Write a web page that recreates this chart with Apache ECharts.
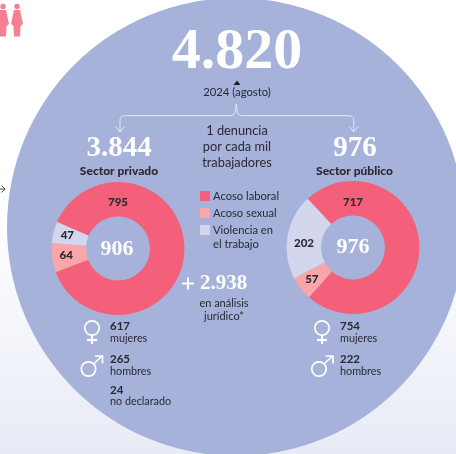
<!DOCTYPE html>
<html>
<head>
<meta charset="utf-8">
<style>
  html, body { margin: 0; padding: 0; background: #fff; }
  #main { width: 456px; height: 454px; }
</style>
<script src="https://cdn.jsdelivr.net/npm/echarts@6/dist/echarts.min.js"></script>
</head>
<body>
<div id="main"></div>
<script>
// datos
const categorias = ['Acoso laboral', 'Acoso sexual', 'Violencia en\nel trabajo'];
const privado = [795, 64, 47];
const publico = [717, 57, 202];
const colores = ['#f4607a', '#f9a6ab', '#d3d6ec'];
const total = '4.820';
const totalPrivado = '3.844';
const totalPublico = '976';
const centroPrivado = '906';
const centroPublico = '976';
const enAnalisis = '2.938';
const generoPrivado = ['617', '265', '24'];
const generoPublico = ['754', '222'];

const SERIF = '"Liberation Serif", serif';
const SANS = 'Lato, "Noto Sans", sans-serif';
const DARK = '#2b2933';
const LLAVE = '#e3e6f4';

function txt(x, y, text, size, opts) {
    opts = opts || {};
    return {
        type: 'text', x: x, y: y, silent: true, z: 20,
        style: {
            text: text,
            fontSize: size,
            fontFamily: opts.font || SANS,
            fontWeight: opts.weight || 'normal',
            fill: opts.color || DARK,
            align: opts.align || 'center',
            verticalAlign: 'middle',
            lineHeight: opts.lh
        }
    };
}
function linea(puntos, color, w) {
    return {
        type: 'polyline', silent: true, z: 15,
        shape: { points: puntos },
        style: { fill: 'none', stroke: color, lineWidth: w }
    };
}
function curva(x1, y1, cx, cy, x2, y2) {
    return {
        type: 'bezierCurve', silent: true, z: 15,
        shape: { x1: x1, y1: y1, cpx1: cx, cpy1: cy, x2: x2, y2: y2 },
        style: { fill: 'none', stroke: LLAVE, lineWidth: 1 }
    };
}
function mujer(x, y) {
    return [
        { type: 'circle', silent: true, z: 15, shape: { cx: x, cy: y, r: 7.2 }, style: { fill: 'none', stroke: '#fff', lineWidth: 1.7 } },
        linea([[x, y + 7], [x, y + 16]], '#fff', 2.2),
        linea([[x - 5, y + 12], [x + 5, y + 12]], '#fff', 2.2)
    ];
}
function hombre(x, y) {
    return [
        { type: 'circle', silent: true, z: 15, shape: { cx: x, cy: y, r: 7.2 }, style: { fill: 'none', stroke: '#fff', lineWidth: 1.7 } },
        linea([[x + 5, y - 5], [x + 13.5, y - 13]], '#fff', 1.7),
        linea([[x + 6.5, y - 13], [x + 14, y - 13], [x + 14, y - 5.5]], '#fff', 1.7)
    ];
}
function persona(x) {
    return [
        { type: 'circle', silent: true, z: 5, shape: { cx: x, cy: 6.5, r: 2.7 }, style: { fill: '#f77f92' } },
        { type: 'polygon', silent: true, z: 5, shape: { points: [[x - 3, 10], [x + 3, 10], [x + 6, 24], [x + 3.5, 26], [x + 3, 36.5], [x - 3, 36.5], [x - 3.5, 26], [x - 6, 24]] }, style: { fill: '#f77f92' } }
    ];
}
function dona(nombre, valores, cx, cy, inicio, ajustes) {
    return {
        name: nombre,
        type: 'pie',
        center: [cx, cy],
        radius: [32, 66.5],
        startAngle: inicio,
        clockwise: true,
        avoidLabelOverlap: false,
        silent: true,
        animation: false,
        z: 10,
        label: {
            show: true, position: 'inside', formatter: '{c}',
            fontFamily: SANS, fontWeight: 900, fontSize: 11.5, color: DARK
        },
        labelLine: { show: false },
        labelLayout: function (p) {
            // la etiqueta mayor va arriba, no a mitad del arco
            if (p.dataIndex === 0) return { x: cx, y: 202, align: 'center', verticalAlign: 'middle' };
            return ajustes[p.dataIndex] || {};
        },
        data: valores.map(function (v, i) {
            return { name: categorias[i], value: v, itemStyle: { color: colores[i] } };
        })
    };
}

const grafico = [].concat(
    [{ type: 'circle', silent: true, z: 1, shape: { cx: 236, cy: 227, r: 229 }, style: { fill: '#a6b2da' } }],
    persona(3), persona(17),
    [
        linea([[0, 189], [5, 189]], '#333', 0.9),
        linea([[1.5, 185.5], [5, 189], [1.5, 192.5]], '#333', 0.9),
        // cifra total
        txt(237, 53, total, 58, { font: SERIF, weight: 'bold', color: '#fff' }),
        { type: 'polygon', silent: true, z: 15, shape: { points: [[233.5, 85], [240.5, 85], [237, 80.5]] }, style: { fill: '#222' } },
        txt(237, 92.5, '2024 (agosto)', 11.3),
        // llaves
        linea([[120, 131], [120, 120]], LLAVE, 1),
        curva(120, 120, 120, 115.7, 124.5, 115.7),
        linea([[124.5, 115.7], [231, 115.7]], LLAVE, 1),
        curva(231, 115.7, 236.3, 115.7, 236.3, 104),
        curva(236.3, 104, 236.3, 115.7, 241.5, 115.7),
        linea([[241.5, 115.7], [348, 115.7]], LLAVE, 1),
        curva(348, 115.7, 353.7, 115.7, 353.7, 120),
        linea([[353.7, 120], [353.7, 131]], LLAVE, 1),
        linea([[115.5, 126.5], [120, 132], [124.5, 126.5]], LLAVE, 1),
        linea([[349.2, 126.5], [353.7, 132], [358.2, 126.5]], LLAVE, 1),
        txt(237, 147, '1 denuncia\npor cada mil\ntrabajadores', 12.8, { lh: 16 }),
        txt(119, 149, totalPrivado, 29, { font: SERIF, weight: 'bold', color: '#fff' }),
        txt(355, 149, totalPublico, 29, { font: SERIF, weight: 'bold', color: '#fff' }),
        txt(119, 171, 'Sector privado', 12, { weight: 900 }),
        txt(354.5, 171, 'Sector público', 12, { weight: 900 }),
        txt(117, 249, centroPrivado, 22, { font: SERIF, weight: 'bold', color: '#fff' }),
        txt(353, 247, centroPublico, 22, { font: SERIF, weight: 'bold', color: '#fff' }),
        // en analisis
        linea([[182, 283.5], [194, 283.5]], '#fff', 2),
        linea([[188, 277.5], [188, 289.5]], '#fff', 2),
        txt(200, 284, enAnalisis, 21, { font: SERIF, weight: 'bold', color: '#fff', align: 'left' }),
        txt(224, 309.5, 'en análisis\njurídico*', 11, { lh: 13 }),
        // segunda linea de la ultima entrada de la leyenda
        txt(213, 244, categorias[2].split('\n')[1], 11.2, { align: 'left' })
    ],
    mujer(92, 328), hombre(88.5, 369),
    mujer(322, 328), hombre(319, 369),
    [
        txt(110, 326, generoPrivado[0], 11.5, { weight: 'bold', align: 'left' }),
        txt(110, 339, 'mujeres', 10.8, { align: 'left' }),
        txt(110, 359, generoPrivado[1], 11.5, { weight: 'bold', align: 'left' }),
        txt(110, 372, 'hombres', 10.8, { align: 'left' }),
        txt(110, 390, generoPrivado[2], 11.5, { weight: 'bold', align: 'left' }),
        txt(110, 402, 'no declarado', 10.8, { align: 'left' }),
        txt(340, 326, generoPublico[0], 11.5, { weight: 'bold', align: 'left' }),
        txt(340, 339, 'mujeres', 10.8, { align: 'left' }),
        txt(340, 359, generoPublico[1], 11.5, { weight: 'bold', align: 'left' }),
        txt(340, 372, 'hombres', 10.8, { align: 'left' })
    ]
);

const chart = echarts.init(document.getElementById('main'), null, { renderer: 'canvas' });
chart.setOption({
    animation: false,
    backgroundColor: {
        type: 'linear', x: 0, y: 0, x2: 0, y2: 1,
        colorStops: [
            { offset: 0, color: '#ffffff' },
            { offset: 0.48, color: '#ffffff' },
            { offset: 1, color: '#e8ebf6' }
        ]
    },
    legend: {
        orient: 'vertical',
        left: 200,
        top: 189.5,
        padding: 0,
        itemWidth: 10,
        itemHeight: 10,
        itemGap: 4,
        selectedMode: false,
        icon: 'rect',
        z: 20,
        formatter: function (n) { return n.split('\n')[0]; },
        textStyle: { fontFamily: SANS, fontSize: 11.2, color: DARK, lineHeight: 13, padding: [0, 0, 0, -2] },
        data: categorias
    },
    graphic: grafico,
    series: [
        dona('Sector privado', privado, 118, 248.5, 156.5, {}),
        dona('Sector público', publico, 353, 247.5, 133, { 2: { x: 304, y: 243, align: 'center', verticalAlign: 'middle' } })
    ]
});
</script>
</body>
</html>
